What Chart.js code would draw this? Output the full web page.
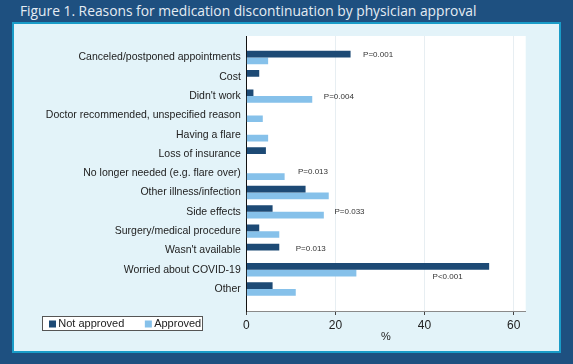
<!DOCTYPE html>
<html>
<head>
<meta charset="utf-8">
<script src="https://cdn.jsdelivr.net/npm/chart.js@4"></script>
<style>
  html, body { margin: 0; padding: 0; }
  body { width: 573px; height: 364px; background: #1e5080; position: relative; overflow: hidden; }
  #title { position: absolute; left: 20px; top: 1px; color: #e4ecf3; font-family: "Open Sans", sans-serif; font-size: 13.8px; white-space: nowrap; }
  #panel { position: absolute; left: 12px; top: 22px; width: 545px; height: 327px; border: 2px solid #1a9cc8; background: #e3f3f9; }
  #wrap { position: absolute; left: 0; top: 0; width: 545px; height: 327px; }
</style>
</head>
<body>
<div id="title">Figure 1. Reasons for medication discontinuation by physician approval</div>
<div id="panel"><div id="wrap"><canvas id="myChart"></canvas></div></div>
<script>
const categories = [
  'Canceled/postponed appointments', 'Cost', "Didn't work",
  'Doctor recommended, unspecified reason', 'Having a flare', 'Loss of insurance',
  'No longer needed (e.g. flare over)', 'Other illness/infection', 'Side effects',
  'Surgery/medical procedure', "Wasn't available", 'Worried about COVID-19', 'Other'
];
const notApproved = [23.4, 2.9, 1.6, 0, 0, 4.4, 0, 13.3, 5.9, 2.9, 7.4, 54.5, 5.9];
const approved = [4.9, 0, 14.8, 3.7, 4.9, 0, 8.6, 18.5, 17.4, 7.4, 0, 24.7, 11.1];
const xTicks = [0, 20, 40, 60];

// p-value notes: text, row position (category units) and x value where the text starts
const pText = ['P=0.001', 'P=0.004', 'P=0.013', 'P=0.033', 'P=0.013', 'P<0.001'];
const pRow = [-0.13, 2.06, 5.94, 7.99, 9.94, 11.39];
const pAt = [26.2, 17.4, 11.6, 19.8, 11.1, 41.8];

const plotBg = {
  id: 'plotBg',
  beforeDraw(chart) {
    const a = chart.chartArea, ctx = chart.ctx;
    ctx.save();
    ctx.fillStyle = '#ffffff';
    ctx.fillRect(a.left, a.top, a.right - a.left, a.bottom - a.top);
    ctx.restore();
  }
};

const pNotes = {
  id: 'pNotes',
  afterDatasetsDraw(chart) {
    const ctx = chart.ctx, xs = chart.scales.x, ys = chart.scales.y;
    ctx.save();
    ctx.font = '8px "Liberation Sans", Arial, sans-serif';
    ctx.fillStyle = '#333333';
    ctx.textAlign = 'left';
    ctx.textBaseline = 'middle';
    pText.forEach((t, i) => {
      ctx.fillText(t, xs.getPixelForValue(pAt[i]), ys.getPixelForValue(pRow[i]));
    });
    ctx.restore();
  }
};

// legend box in the lower left corner, like the original
const boxLegend = {
  id: 'boxLegend',
  afterDraw(chart) {
    const ctx = chart.ctx;
    const left = 28.5, top = 292.5, w = 160, h = 14;
    ctx.save();
    ctx.fillStyle = '#ffffff';
    ctx.fillRect(left, top, w, h);
    ctx.strokeStyle = '#555555';
    ctx.lineWidth = 1;
    ctx.strokeRect(left, top, w, h);
    ctx.font = '11px "Liberation Sans", Arial, sans-serif';
    ctx.textBaseline = 'middle';
    ctx.fillStyle = '#222222';
    let x = left + 6.5;
    const cy = top + h / 2 + 0.5;
    chart.data.datasets.forEach((ds) => {
      ctx.fillStyle = ds.backgroundColor;
      ctx.fillRect(x, cy - 3.5, 7, 7);
      x += 9.3;
      ctx.fillStyle = '#222222';
      ctx.fillText(ds.label, x, cy);
      x += ctx.measureText(ds.label).width + 20.5;
    });
    ctx.restore();
  }
};

const data = {
  datasets: [{
    label: 'Not approved',
    data: notApproved.map((v, i) => ({ x: v, y: i })),
    backgroundColor: '#1d4a75',
    borderWidth: 0
  }, {
    label: 'Approved',
    data: approved.map((v, i) => ({ x: v, y: i })),
    backgroundColor: '#86c1ea',
    borderWidth: 0
  }]
};

const config = {
  type: 'bar',
  data: data,
  options: {
    indexAxis: 'y',
    responsive: true,
    maintainAspectRatio: false,
    animation: false,
    categoryPercentage: 0.695,
    barPercentage: 1.0,
    layout: { padding: { left: 0, right: 33.3, top: 12, bottom: 0 } },
    plugins: {
      legend: { display: false },
      tooltip: { enabled: false }
    },
    scales: {
      x: {
        type: 'linear',
        min: 0,
        max: 62.7,
        afterBuildTicks: (scale) => { scale.ticks = xTicks.map(v => ({ value: v })); },
        afterFit: (scale) => { scale.height = 40; },
        grid: {
          color: (c) => c.tick && c.tick.value === 0 ? 'rgba(0,0,0,0)' : '#e7eef2',
          tickColor: '#444444',
          tickLength: 4
        },
        border: { display: true, color: '#8a8a8a', width: 1 },
        ticks: {
          color: '#222222',
          padding: 3,
          font: { family: '"Liberation Sans", Arial, sans-serif', size: 12 }
        },
        title: {
          display: true,
          text: '%',
          color: '#222222',
          padding: { top: 0, bottom: 7 },
          font: { family: '"Liberation Sans", Arial, sans-serif', size: 11 }
        }
      },
      y: {
        type: 'linear',
        reverse: true,
        offset: false,
        min: -1.115,
        max: 13.14,
        afterBuildTicks: (scale) => { scale.ticks = categories.map((c, i) => ({ value: i })); },
        afterFit: (scale) => { scale.width = 232.3; },
        grid: { display: false, drawTicks: false, offset: false },
        border: { display: true, color: '#111111', width: 1 },
        ticks: {
          autoSkip: false,
          color: '#222222',
          padding: 5.5,
          callback: (v) => categories[v],
          font: { family: '"Liberation Sans", Arial, sans-serif', size: 10.5 }
        }
      }
    }
  },
  plugins: [plotBg, pNotes, boxLegend]
};

const myChart = new Chart(document.getElementById('myChart').getContext('2d'), config);
</script>
</body>
</html>
